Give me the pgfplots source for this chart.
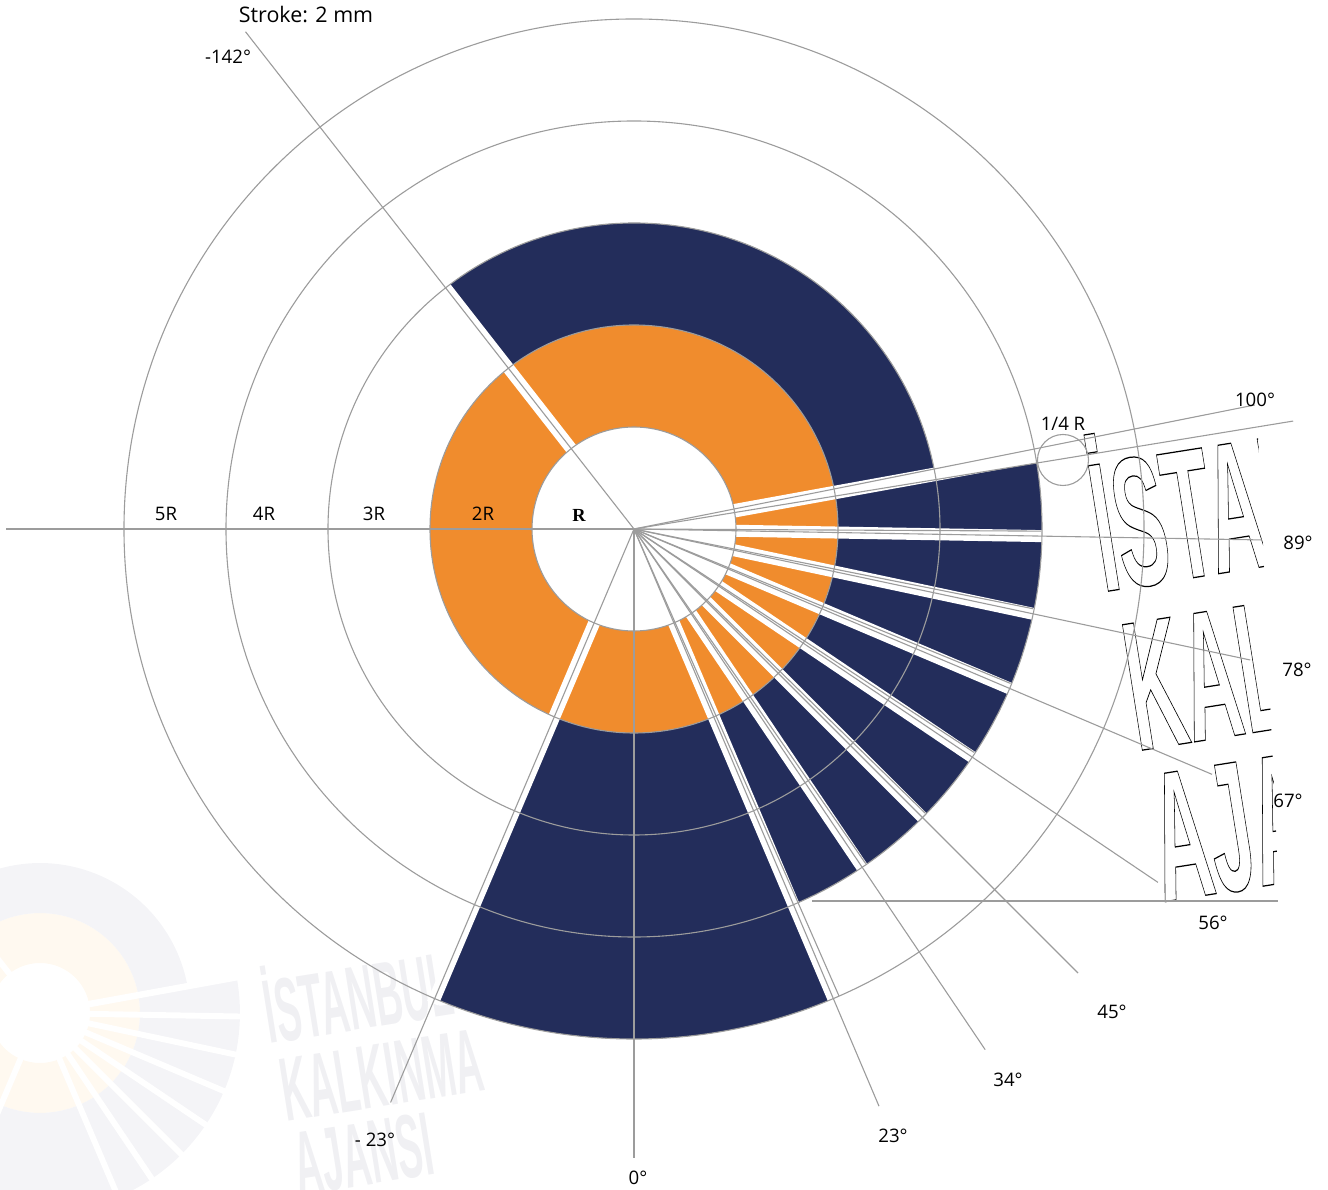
\documentclass[border=0pt]{standalone}
\usepackage{pgfplots}
\pgfplotsset{compat=1.18}
\usepackage{fontspec}
\setmainfont{Open Sans}
\newfontfamily\rfont{Liberation Serif}
\newfontfamily\logofont{Liberation Sans}
\definecolor{navy}{HTML}{232D5B}
\definecolor{orng}{HTML}{F08C2D}
\definecolor{gl}{HTML}{9C9C9C}
\definecolor{wmgray}{HTML}{F4F4F7}
\definecolor{wmpeach}{HTML}{FFF9F0}
\definecolor{wmtext}{HTML}{F0F0F3}
\newdimen\Rm \Rm=20.4mm
\newdimen\Rw \Rw=9.996mm
% sector: center, colour, start angle, end angle, inner r, outer r (in R), R
\newcommand\sect[7]{\fill[#2] ([shift={(#3:#6*#7)}]#1) arc[start angle=#3,end angle=#4,radius=#6*#7] -- ([shift={(#4:#5*#7)}]#1) arc[start angle=#4,end angle=#3,radius=#5*#7] -- cycle;}
% white stroke: center, angle, length (in R), R, width
\newcommand\strip[5]{\draw[white,line width=#5] (#1) -- ([shift={(#2:#3*#4)}]#1);}
% outlined text (PDF text render mode 1)
\newcommand\outl[1]{\special{pdf:literal direct 1 Tr 0.7 w}#1\special{pdf:literal direct 0 Tr}}
\newcommand\lbl{\fontsize{10.6}{12}\selectfont}
\tikzset{
 mlogo/.style={anchor=base west, inner sep=0pt, rotate=9, xscale=0.42, font=\logofont\bfseries\fontsize{105}{105}\selectfont, text=black},
 wlogo/.style={anchor=base west, inner sep=0pt, rotate=9, xscale=0.42, font=\logofont\bfseries\fontsize{51.45}{51.45}\selectfont, text=wmtext},
}
\begin{document}
\begin{tikzpicture}
\begin{axis}[x=0.2mm, y=0.2mm, xmin=-634, xmax=694, ymin=-660, ymax=529,
  hide axis, clip=false]
\coordinate (C) at (axis cs:0,0);
\coordinate (W) at (axis cs:-594,-484);
\coordinate (BL) at (axis cs:-634,-660);
\coordinate (TR) at (axis cs:694,529);
\coordinate (L1) at (axis cs:469,-63);
\coordinate (L2) at (axis cs:503,-222);
\coordinate (L3) at (axis cs:529,-373);
\coordinate (M1) at (axis cs:-364.2,-514.9);
\coordinate (M2) at (axis cs:-347.5,-592.8);
\coordinate (M3) at (axis cs:-334.8,-666.8);
% ---------- watermark ----------
\begin{scope}
\clip (BL) rectangle (TR);
\fill[wmpeach, even odd rule] (W) circle[radius=2*\Rw] (W) circle[radius=\Rw];
\sect{W}{wmgray}{10}{128}{2}{3}{\Rw}
\sect{W}{wmgray}{247}{293}{2}{5}{\Rw}
\sect{W}{wmgray}{-67}{10}{2}{4}{\Rw}
\strip{W}{128}{3.05}{\Rw}{1.18mm}
\strip{W}{247}{5.05}{\Rw}{1.18mm}
\strip{W}{-67}{5.05}{\Rw}{1.18mm}
\strip{W}{-56}{4.05}{\Rw}{1.18mm}
\strip{W}{-45}{4.05}{\Rw}{1.18mm}
\strip{W}{-34}{4.05}{\Rw}{1.18mm}
\strip{W}{-23}{4.05}{\Rw}{1.18mm}
\strip{W}{-12}{4.05}{\Rw}{1.18mm}
\strip{W}{-1}{4.05}{\Rw}{1.18mm}
\strip{W}{10.3}{4.05}{\Rw}{1.3mm}
\node[wlogo] at (M1) {İSTANBUL};
\node[wlogo] at (M2) {KALKINMA};
\node[wlogo] at (M3) {AJANSI};
\end{scope}
% ---------- main chart ----------
\fill[orng, even odd rule] (C) circle[radius=2*\Rm] (C) circle[radius=\Rm];
\sect{C}{navy}{10}{128}{2}{3}{\Rm}
\sect{C}{navy}{247}{293}{2}{5}{\Rm}
\sect{C}{navy}{-67}{10}{2}{4}{\Rm}
\strip{C}{128}{3.05}{\Rm}{2.4mm}
\strip{C}{247}{5.05}{\Rm}{2.4mm}
\strip{C}{-67}{5.05}{\Rm}{2.4mm}
\strip{C}{-56}{4.05}{\Rm}{2.4mm}
\strip{C}{-45}{4.05}{\Rm}{2.4mm}
\strip{C}{-34}{4.05}{\Rm}{2.4mm}
\strip{C}{-23}{4.05}{\Rm}{2.4mm}
\strip{C}{-12}{4.05}{\Rm}{2.4mm}
\strip{C}{-1}{4.05}{\Rm}{2.4mm}
\strip{C}{10.3}{4.05}{\Rm}{2.7mm}
% ---------- outlined logo ----------
\begin{scope}
\clip (axis cs:380,160) -- (axis cs:621,160) -- (axis cs:646,-390) -- (axis cs:380,-390) -- cycle;
\node[mlogo] at (L1) {\outl{İSTANBUL}};
\node[mlogo] at (L2) {\outl{KALKINMA}};
\node[mlogo] at (L3) {\outl{AJANSI}};
\end{scope}
% ---------- grid circles ----------
\draw[gl, line width=0.22mm] (C) circle[radius=\Rm];
\draw[gl, line width=0.22mm] (C) circle[radius=2*\Rm];
\draw[gl, line width=0.22mm] (C) circle[radius=3*\Rm];
\draw[gl, line width=0.22mm] (C) circle[radius=4*\Rm];
\draw[gl, line width=0.22mm] (C) circle[radius=5*\Rm];
\draw[gl, line width=0.22mm] (axis cs:429,69) circle[radius=0.25*\Rm];
% ---------- radial lines (angle, radius) ----------
\addplot[gl, line width=0.22mm, data cs=polar] coordinates {(0,0) (-232,631)};
\addplot[gl, line width=0.22mm, data cs=polar] coordinates {(0,0) (-113,623)};
\addplot[gl, line width=0.22mm, data cs=polar] coordinates {(0,0) (-90,629)};
\addplot[gl, line width=0.22mm, data cs=polar] coordinates {(0,0) (-67,627)};
\addplot[gl, line width=0.22mm, data cs=polar] coordinates {(0,0) (-56,628)};
\addplot[gl, line width=0.22mm, data cs=polar] coordinates {(0,0) (-45,628)};
\addplot[gl, line width=0.22mm, data cs=polar] coordinates {(0,0) (-34,632)};
\addplot[gl, line width=0.22mm, data cs=polar] coordinates {(0,0) (-23,628)};
\addplot[gl, line width=0.22mm, data cs=polar] coordinates {(0,0) (-12,630)};
\addplot[gl, line width=0.22mm, data cs=polar] coordinates {(0,0) (-1,628)};
\addplot[gl, line width=0.22mm, data cs=polar] coordinates {(0,0) (9.3,668)};
\addplot[gl, line width=0.22mm, data cs=polar] coordinates {(0,0) (11.3,633)};
\addplot[gl, line width=0.22mm, data cs=polar] coordinates {(0,0) (-66.3,510)};
\addplot[gl, line width=0.22mm, data cs=polar] coordinates {(0,0) (-55.3,407)};
\addplot[gl, line width=0.22mm, data cs=polar] coordinates {(0,0) (-44.3,407)};
\addplot[gl, line width=0.22mm, data cs=polar] coordinates {(0,0) (-33.3,407)};
\addplot[gl, line width=0.22mm, data cs=polar] coordinates {(0,0) (-22.3,407)};
\addplot[gl, line width=0.22mm, data cs=polar] coordinates {(0,0) (-11.3,407)};
\addplot[gl, line width=0.22mm, data cs=polar] coordinates {(0,0) (-0.3,407)};
\addplot[gl, line width=0.22mm] coordinates {(-628,0) (0,0)};
\addplot[gl, line width=0.22mm] coordinates {(178,-372) (644,-372)};
% ---------- labels ----------
\node[font=\fontsize{12.2}{14}\selectfont] at (axis cs:-328,514) {Stroke: 2 mm};
\node[font=\lbl] at (axis cs:-406,472) {-142°};
\node[font=\lbl] at (axis cs:-468,15) {5R};
\node[font=\lbl] at (axis cs:-370,15) {4R};
\node[font=\lbl] at (axis cs:-260,15) {3R};
\node[font=\lbl] at (axis cs:-151,15) {2R};
\node[font=\rfont\bfseries\fontsize{10.5}{12}\selectfont] at (axis cs:-55,14) {R};
\node[font=\lbl] at (axis cs:429,105) {1/4 R};
\node[font=\lbl] at (axis cs:621,129) {100°};
\node[font=\lbl] at (axis cs:664,-14) {89°};
\node[font=\lbl] at (axis cs:663,-141) {78°};
\node[font=\lbl] at (axis cs:654,-272) {67°};
\node[font=\lbl] at (axis cs:579,-394) {56°};
\node[font=\lbl] at (axis cs:478,-483) {45°};
\node[font=\lbl] at (axis cs:374,-551) {34°};
\node[font=\lbl] at (axis cs:259,-607) {23°};
\node[font=\lbl] at (axis cs:4,-649) {0°};
\node[font=\lbl] at (axis cs:-259,-611) {- 23°};
\end{axis}
\pgfresetboundingbox
\path[use as bounding box] (BL) rectangle (TR);
\end{tikzpicture}
\end{document}
